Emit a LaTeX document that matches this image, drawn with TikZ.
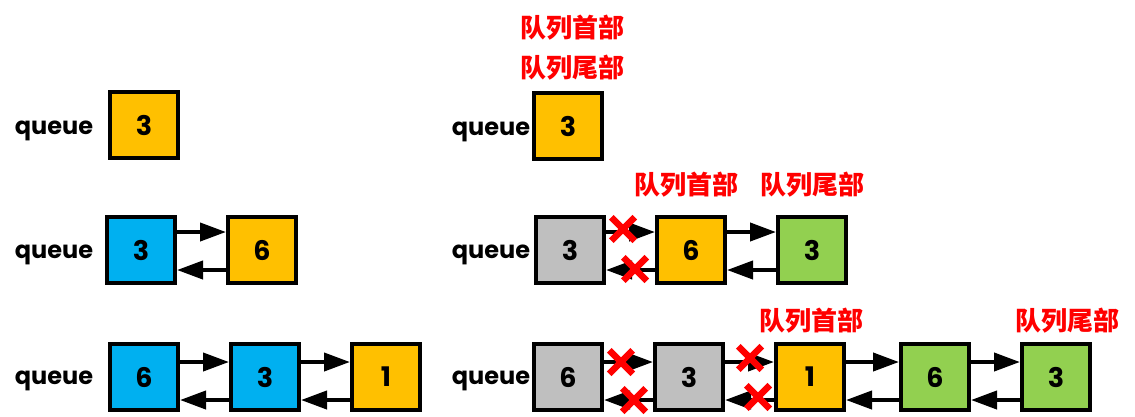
\documentclass[tikz,border=0pt]{standalone}
\usepackage{fontspec}
\newfontfamily\popfont{Poppins}
\newfontfamily\cjk{Noto Sans CJK SC}
\usetikzlibrary{arrows.meta,shapes.misc}
\definecolor{blueC}{HTML}{00B0F0}
\definecolor{orangeC}{HTML}{FFC000}
\definecolor{greenC}{HTML}{92D050}
\definecolor{grayC}{HTML}{BFBFBF}
\definecolor{redC}{HTML}{FF0000}
\tikzset{
  box/.style={draw=black, line width=4pt, minimum width=68pt, minimum height=66pt, inner sep=0pt,
    font=\popfont\bfseries\fontsize{27}{27}\selectfont},
  qlabel/.style={anchor=base, inner sep=0pt, font=\popfont\bfseries\fontsize{24}{24}\selectfont},
  redlabel/.style={anchor=base, inner sep=0pt, text=redC, font=\cjk\bfseries\fontsize{26}{26}\selectfont},
  arr/.style={line width=4pt, -{Triangle[length=26pt,width=18pt]}},
  xmark/.style={cross out, draw=redC, line width=6.5pt, minimum size=17pt, inner sep=0pt}
}
\begin{document}
\begin{tikzpicture}[x=1pt,y=-1pt]
\fill[white] (0,0) rectangle (1135,416);
\path[use as bounding box] (0,0) rectangle (1135,416);
% ---------- left column ----------
\node[qlabel] (q1) at (54,134) {queue};
\node[box,fill=orangeC] (a1) at (144,125) {3};
\node[qlabel] (q2) at (54,258) {queue};
\node[box,fill=blueC] (b1) at (141,250) {3};
\node[box,fill=orangeC] (b2) at (262,250) {6};
\draw[arr] ([yshift=18pt]b1.east) -- ([yshift=18pt]b2.west);
\draw[arr] ([yshift=-20pt]b2.west) -- ([yshift=-20pt]b1.east);
\node[qlabel] (q3) at (54,384) {queue};
\node[box,fill=blueC] (c1) at (144,377) {6};
\node[box,fill=blueC] (c2) at (265,377) {3};
\node[box,fill=orangeC] (c3) at (386,377) {1};
\draw[arr] ([yshift=15pt]c1.east) -- ([yshift=15pt]c2.west);
\draw[arr] ([yshift=-23pt]c2.west) -- ([yshift=-23pt]c1.east);
\draw[arr] ([yshift=15pt]c2.east) -- ([yshift=15pt]c3.west);
\draw[arr] ([yshift=-23pt]c3.west) -- ([yshift=-23pt]c2.east);
% ---------- right column ----------
\node[redlabel] (h1) at (572,37) {队列首部};
\node[redlabel] (t1) at (572,77) {队列尾部};
\node[qlabel] (q4) at (491,135) {queue};
\node[box,fill=orangeC] (d1) at (568,126) {3};
% row 2
\node[redlabel] (h2) at (686,194) {队列首部};
\node[redlabel] (t2) at (812,194) {队列尾部};
\node[qlabel] (q5) at (491,258) {queue};
\node[box,fill=grayC] (e1) at (570,250) {3};
\node[box,fill=orangeC] (e2) at (691,250) {6};
\node[box,fill=greenC] (e3) at (812,250) {3};
\draw[arr] ([yshift=18pt]e1.east) -- ([yshift=18pt]e2.west);
\draw[arr] ([yshift=-20pt]e2.west) -- ([yshift=-20pt]e1.east);
\draw[arr] ([yshift=18pt]e2.east) -- ([yshift=18pt]e3.west);
\draw[arr] ([yshift=-20pt]e3.west) -- ([yshift=-20pt]e2.east);
\node[xmark] (x1) at (623,229) {};
\node[xmark] (x2) at (635,269) {};
% row 3
\node[redlabel] (h3) at (811,330) {队列首部};
\node[redlabel] (t3) at (1067,330) {队列尾部};
\node[qlabel] (q6) at (491,384) {queue};
\node[box,fill=grayC] (f1) at (568,377) {6};
\node[box,fill=grayC] (f2) at (689,377) {3};
\node[box,fill=orangeC] (f3) at (810,377) {1};
\node[box,fill=greenC] (f4) at (935,377) {6};
\node[box,fill=greenC] (f5) at (1056,377) {3};
\draw[arr] ([yshift=15pt]f1.east) -- ([yshift=15pt]f2.west);
\draw[arr] ([yshift=-23pt]f2.west) -- ([yshift=-23pt]f1.east);
\draw[arr] ([yshift=15pt]f2.east) -- ([yshift=15pt]f3.west);
\draw[arr] ([yshift=-23pt]f3.west) -- ([yshift=-23pt]f2.east);
\draw[arr] ([yshift=15pt]f3.east) -- ([yshift=15pt]f4.west);
\draw[arr] ([yshift=-23pt]f4.west) -- ([yshift=-23pt]f3.east);
\draw[arr] ([yshift=15pt]f4.east) -- ([yshift=15pt]f5.west);
\draw[arr] ([yshift=-23pt]f5.west) -- ([yshift=-23pt]f4.east);
\node[xmark] (x3) at (621,362) {};
\node[xmark] (x4) at (634,400) {};
\node[xmark] (x5) at (750,358) {};
\node[xmark] (x6) at (758,397) {};
\end{tikzpicture}
\end{document}
